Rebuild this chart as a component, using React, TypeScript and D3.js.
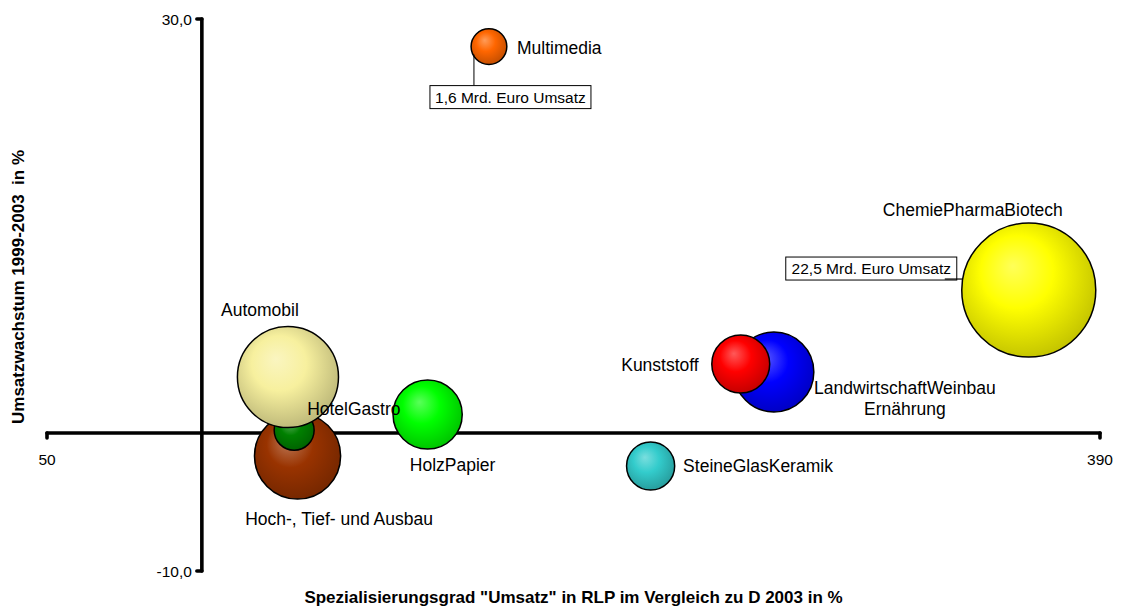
import React from "react";
import * as d3 from "d3";

// ---- data ----
const categories = [
  "ChemiePharmaBiotech",
  "LandwirtschaftWeinbau|Ernährung",
  "Kunststoff",
  "Hoch-, Tief- und Ausbau",
  "HotelGastro",
  "Automobil",
  "HolzPapier",
  "SteineGlasKeramik",
  "Multimedia",
];
const specialisation = [367, 284.7, 274, 130.9, 129.8, 127.8, 172.9, 244.9, 192.7]; // x, %
const growth = [10.36, 4.42, 5.0, -1.67, 0.2, 4.06, 1.34, -2.39, 28.0]; // y, %
const turnover = [22.5, 8.0, 4.2, 9.3, 2.0, 12.8, 6.0, 2.9, 1.6]; // Mrd. Euro
const xTickValues = [50, 390];
const xTickLabels = ["50", "390"];
const yTickValues = [30, -10];
const yTickLabels = ["30,0", "-10,0"];
const callouts = [
  { index: 8, text: "1,6 Mrd. Euro Umsatz" },
  { index: 0, text: "22,5 Mrd. Euro Umsatz" },
];
const xTitle = 'Spezialisierungsgrad "Umsatz" in RLP im Vergleich zu D 2003 in %';
const yTitle = "Umsatzwachstum 1999-2003  in %";

// ---- style / layout ----
const colors = ["#FFFF00", "#0000FF", "#FF0000", "#993300", "#008000", "#F7F09E", "#00FF00", "#33CCCC", "#FF6600"];
// label offsets from bubble centre: [dx, dy, anchor]
const labelLayout: [number, number, string][] = [
  [-56, -74, "middle"],
  [131, 22, "middle"],
  [-42, 7, "end"],
  [41.5, 69, "middle"],
  [13, -15, "start"],
  [-28, -61, "middle"],
  [25, 56, "middle"],
  [32.5, 6, "start"],
  [28, 7, "start"],
];
const FONT = "'Liberation Sans', Arial, Helvetica, sans-serif";

export default function App() {
  const W = 1122;
  const H = 611;
  const x = d3.scaleLinear().domain([50, 390]).range([47, 1100]);
  const y = d3.scaleLinear().domain([-10, 30]).range([571, 19]);
  const r = d3.scaleSqrt().domain([0, 22.5]).range([0, 67]);
  const x0 = x(100);
  const y0 = y(0);

  const grads = colors.map((c, i) => {
    const base = d3.color(c)!;
    const light = d3.interpolateRgb(c, "#ffffff")(0.35);
    const dark = base.darker(0.75).formatHex();
    return (
      <radialGradient key={i} id={`g${i}`} cx="45%" cy="42%" r="60%" fx="38%" fy="32%">
        <stop offset="0%" stopColor={light} />
        <stop offset="45%" stopColor={c} />
        <stop offset="100%" stopColor={dark} />
      </radialGradient>
    );
  });

  return (
    <svg width={W} height={H} style={{ position: "absolute", left: 0, top: 0, background: "#fff" }} fontFamily={FONT}>
      <defs>{grads}</defs>
      {/* axes */}
      <g stroke="#000" strokeWidth={3.6} strokeLinecap="round" fill="none">
        <line x1={x(50)} x2={x(390)} y1={y0} y2={y0} />
        <line x1={x0} x2={x0} y1={y(30)} y2={y(-10)} />
        {xTickValues.map((v) => (
          <line key={"xt" + v} x1={x(v)} x2={x(v)} y1={y0} y2={y0 + 5} />
        ))}
        {yTickValues.map((v) => (
          <line key={"yt" + v} x1={x0 - 5} x2={x0} y1={y(v)} y2={y(v)} />
        ))}
      </g>
      {xTickValues.map((v, i) => (
        <text key={"xl" + v} x={x(v)} y={y0 + 32} fontSize={15.5} textAnchor="middle">
          {xTickLabels[i]}
        </text>
      ))}
      {yTickValues.map((v, i) => (
        <text key={"yl" + v} x={x0 - 10} y={y(v) + 5.5} fontSize={15.5} textAnchor="end">
          {yTickLabels[i]}
        </text>
      ))}
      {/* bubbles */}
      {categories.map((c, i) => (
        <circle
          key={c}
          cx={x(specialisation[i])}
          cy={y(growth[i])}
          r={r(turnover[i])}
          fill={`url(#g${i})`}
          stroke="#000"
          strokeWidth={1.5}
        />
      ))}
      {/* callouts */}
      {callouts.map((co, k) => {
        const cx = x(specialisation[co.index]);
        const cy = y(growth[co.index]);
        const rr = r(turnover[co.index]);
        if (k === 0) {
          const bx = cx - 59, by = cy + 39, bw = 161, bh = 23;
          return (
            <g key={k}>
              <line x1={cx - 15} x2={cx - 15} y1={cy + 8} y2={by} stroke="#000" strokeWidth={1} />
              <rect x={bx} y={by} width={bw} height={bh} fill="#fff" stroke="#000" strokeWidth={1} />
              <text x={bx + bw / 2} y={by + 17} fontSize={15.5} textAnchor="middle">{co.text}</text>
            </g>
          );
        }
        const bw = 171, bh = 23;
        const bx = cx - rr - 176, by = cy - 33;
        return (
          <g key={k}>
            <rect x={bx} y={by} width={bw} height={bh} fill="#fff" stroke="#000" strokeWidth={1} />
            <line x1={bx + bw - 12} x2={cx - rr + 1} y1={by + bh - 1} y2={by + bh - 1} stroke="#000" strokeWidth={1.2} />
            <text x={bx + bw / 2} y={by + 17} fontSize={15.5} textAnchor="middle">{co.text}</text>
          </g>
        );
      })}
      {/* labels */}
      {categories.map((c, i) => {
        const [dx, dy, anchor] = labelLayout[i];
        const lines = c.split("|");
        const lx = x(specialisation[i]) + dx;
        const ly = y(growth[i]) + dy;
        return (
          <text key={"lab" + c} x={lx} y={ly} fontSize={17.5} textAnchor={anchor} fill="#000">
            {lines.map((l, j) => (
              <tspan key={j} x={lx} dy={j === 0 ? 0 : 21}>
                {l}
              </tspan>
            ))}
          </text>
        );
      })}
      {/* titles */}
      <text x={573.5} y={603} fontSize={17} fontWeight="bold" textAnchor="middle">
        {xTitle}
      </text>
      <text
        transform={`translate(24,287) rotate(-90)`}
        fontSize={17}
        fontWeight="bold"
        textAnchor="middle"
        style={{ whiteSpace: "pre" }}
      >
        {yTitle}
      </text>
    </svg>
  );
}
